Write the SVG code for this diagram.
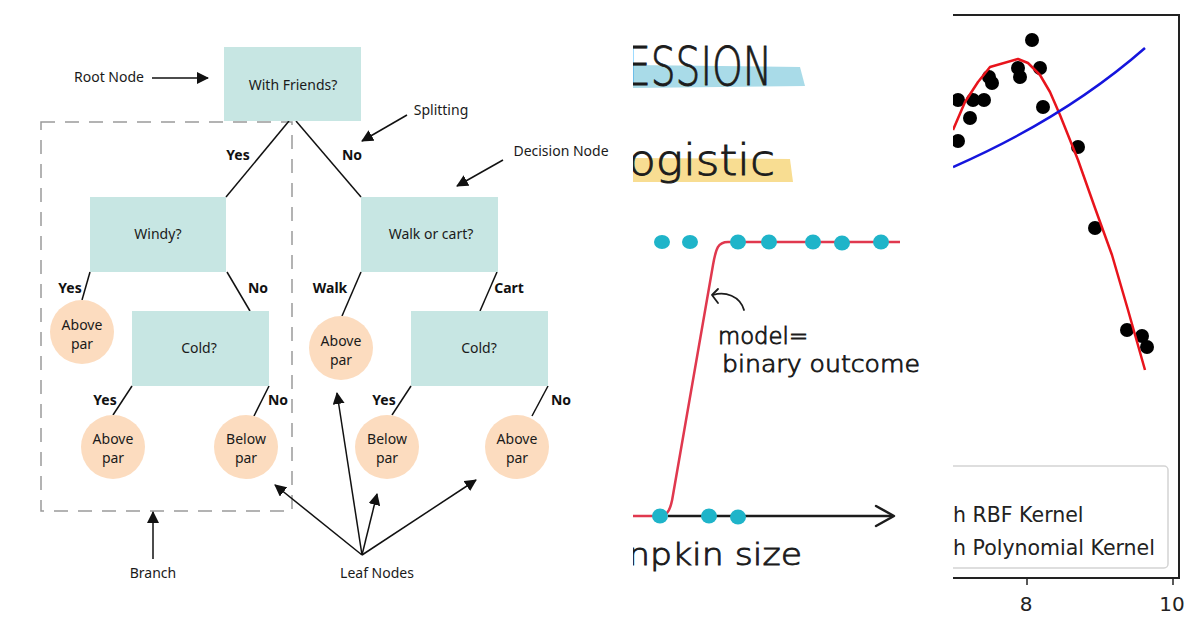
<svg xmlns="http://www.w3.org/2000/svg" width="1200" height="630" viewBox="0 0 1200 630">
<defs>
<style>
.box{fill:#c7e6e3}
.leaf{fill:#fcdcbf}
.t{font-family:"Noto Sans","Open Sans",sans-serif;font-size:14px;fill:#1a1a1a;text-anchor:middle}
.b{font-family:"Noto Sans","Open Sans",sans-serif;font-size:14px;font-weight:bold;fill:#111;text-anchor:middle}
.e{stroke:#111;stroke-width:1.5;fill:none}
.a{stroke:#111;stroke-width:1.5;fill:none;marker-end:url(#ah)}
.hw{font-family:"DejaVu Sans","Liberation Sans",sans-serif;font-weight:200;fill:#1c1c1c;stroke:#1c1c1c;stroke-width:0.9}
.dot{fill:#1fb4c9}
.pt{fill:#000}
.mpl{font-family:"DejaVu Sans",sans-serif;fill:#222}
</style>
<marker id="ah" viewBox="0 0 12 12" refX="11" refY="6" markerWidth="12" markerHeight="12" markerUnits="userSpaceOnUse" orient="auto">
<path d="M0,0 L12,6 L0,12 z" fill="#111"/>
</marker>
<clipPath id="midclip"><rect x="633" y="0" width="297" height="630"/></clipPath>
<clipPath id="rclip"><rect x="953" y="0" width="247" height="630"/></clipPath>
</defs>
<rect width="1200" height="630" fill="#fff"/>

<!-- Decision tree -->
<g id="branch-box">
<rect x="41" y="122" width="251" height="389" fill="none" stroke="#9a9a9a" stroke-width="1.5" stroke-dasharray="14 10"/>
</g>
<g id="connectors">
<line class="e" x1="289" y1="121" x2="226" y2="197"/>
<line class="e" x1="296" y1="121" x2="361" y2="197"/>
<line class="e" x1="90" y1="272" x2="82" y2="300"/>
<line class="e" x1="227" y1="272" x2="250" y2="311"/>
<line class="e" x1="132" y1="386" x2="113" y2="415"/>
<line class="e" x1="269" y1="386" x2="254" y2="416"/>
<line class="e" x1="361" y1="272" x2="342" y2="316"/>
<line class="e" x1="497" y1="272" x2="480" y2="311"/>
<line class="e" x1="411" y1="386" x2="392" y2="415"/>
<line class="e" x1="548" y1="386" x2="532" y2="416"/>
<line class="a" x1="152" y1="78" x2="208" y2="78"/>
<line class="a" x1="407" y1="115" x2="362" y2="141"/>
<line class="a" x1="503" y1="160" x2="457" y2="186"/>
<line class="a" x1="153" y1="559" x2="153" y2="512"/>
<line class="a" x1="362" y1="555" x2="337" y2="393"/>
<line class="a" x1="362" y1="555" x2="377" y2="494"/>
<line class="a" x1="362" y1="555" x2="476" y2="480"/>
<line class="a" x1="362" y1="555" x2="275" y2="485"/>
</g>
<g id="edge-labels">
<text class="b" x="238" y="160">Yes</text>
<text class="b" x="352" y="160">No</text>
<text class="b" x="70" y="293">Yes</text>
<text class="b" x="258" y="293">No</text>
<text class="b" x="330" y="293">Walk</text>
<text class="b" x="509" y="293">Cart</text>
<text class="b" x="105" y="405">Yes</text>
<text class="b" x="278" y="405">No</text>
<text class="b" x="384" y="405">Yes</text>
<text class="b" x="561" y="405">No</text>
</g>
<g id="root"><rect class="box" x="224" y="47" width="137" height="74"/><text class="t" x="293" y="90">With Friends?</text></g>
<g id="windy"><rect class="box" x="90" y="197" width="136" height="75"/><text class="t" x="158" y="239">Windy?</text></g>
<g id="walkcart"><rect class="box" x="361" y="197" width="137" height="75"/><text class="t" x="431" y="239">Walk or cart?</text></g>
<g id="cold1"><rect class="box" x="132" y="311" width="137" height="75"/><text class="t" x="199" y="353">Cold?</text></g>
<g id="cold2"><rect class="box" x="411" y="311" width="137" height="75"/><text class="t" x="479" y="353">Cold?</text></g>
<g id="leaf1"><circle class="leaf" cx="82" cy="332" r="32"/><text class="t" x="82" y="330">Above</text><text class="t" x="82" y="349">par</text></g>
<g id="leaf2"><circle class="leaf" cx="341" cy="348" r="32"/><text class="t" x="341" y="346">Above</text><text class="t" x="341" y="365">par</text></g>
<g id="leaf3"><circle class="leaf" cx="113" cy="447" r="32"/><text class="t" x="113" y="444">Above</text><text class="t" x="113" y="463">par</text></g>
<g id="leaf4"><circle class="leaf" cx="246" cy="447" r="32"/><text class="t" x="246" y="444">Below</text><text class="t" x="246" y="463">par</text></g>
<g id="leaf5"><circle class="leaf" cx="387" cy="447" r="32"/><text class="t" x="387" y="444">Below</text><text class="t" x="387" y="463">par</text></g>
<g id="leaf6"><circle class="leaf" cx="517" cy="447" r="32"/><text class="t" x="517" y="444">Above</text><text class="t" x="517" y="463">par</text></g>
<g id="annotations">
<text class="t" x="109" y="82">Root Node</text>
<text class="t" x="441" y="115">Splitting</text>
<text class="t" x="561" y="156">Decision Node</text>
<text class="t" x="153" y="578">Branch</text>
<text class="t" x="377" y="578">Leaf Nodes</text>
</g>

<!-- Middle panel: logistic regression sketch -->
<g id="logistic" clip-path="url(#midclip)">
<path d="M633,65 L800,67 L805,86 L633,88 z" fill="#a9dbe8"/>
<path d="M633,158 L790,159 L793,182 L633,182 z" fill="#f8dd92"/>
<text class="hw" x="626" y="85" font-size="54" textLength="146" lengthAdjust="spacingAndGlyphs">ESSION</text>
<text class="hw" x="628" y="175" font-size="42" textLength="147" lengthAdjust="spacingAndGlyphs">ogistic</text>
<path d="M632,516 L660,516 C668,516 671,508 673,495 L713,265 C716,248 718,242 728,242 L900,242" fill="none" stroke="#e0384e" stroke-width="2.5"/>
<line x1="668" y1="516" x2="893" y2="516" stroke="#1c1c1c" stroke-width="2.5"/>
<polyline points="876,506 894,516 876,526" fill="none" stroke="#1c1c1c" stroke-width="2.5" stroke-linejoin="round" stroke-linecap="round"/>
<ellipse class="dot" cx="662" cy="242" rx="8" ry="7"/>
<ellipse class="dot" cx="690" cy="242" rx="8" ry="7"/>
<ellipse class="dot" cx="738" cy="242" rx="8" ry="7.5"/>
<ellipse class="dot" cx="769" cy="242" rx="8" ry="7.5"/>
<ellipse class="dot" cx="813" cy="242" rx="8" ry="7.5"/>
<ellipse class="dot" cx="842" cy="243" rx="8" ry="7.5"/>
<ellipse class="dot" cx="881" cy="242" rx="8" ry="7.5"/>
<ellipse class="dot" cx="660" cy="516" rx="8" ry="7.5"/>
<ellipse class="dot" cx="709" cy="516" rx="8" ry="7.5"/>
<ellipse class="dot" cx="738" cy="517" rx="8" ry="7.5"/>
<path d="M713,295 C725,291 740,296 744,310" fill="none" stroke="#1c1c1c" stroke-width="1.8" stroke-linecap="round"/>
<polyline points="718,289 712,295 718,303" fill="none" stroke="#1c1c1c" stroke-width="1.8" stroke-linecap="round" stroke-linejoin="round"/>
<text class="hw" x="718" y="344" font-size="23" textLength="90" lengthAdjust="spacingAndGlyphs" stroke-width="0.5">model=</text>
<text class="hw" x="722" y="372" font-size="23" textLength="198" lengthAdjust="spacingAndGlyphs" stroke-width="0.5">binary outcome</text>
<text class="hw" x="628" y="565" font-size="31" textLength="174" lengthAdjust="spacingAndGlyphs">npkin size</text>
</g>

<!-- Right panel: SVR plot -->
<g id="svr-plot" clip-path="url(#rclip)">
<line x1="940" y1="15" x2="1180" y2="15" stroke="#222" stroke-width="2"/>
<line x1="1179" y1="14" x2="1179" y2="579" stroke="#222" stroke-width="2"/>
<line x1="940" y1="578" x2="1180" y2="578" stroke="#222" stroke-width="2"/>
<line x1="1027" y1="578" x2="1027" y2="585" stroke="#222" stroke-width="1.5"/>
<line x1="1173" y1="578" x2="1173" y2="585" stroke="#222" stroke-width="1.5"/>
<text class="mpl" x="1026" y="611" font-size="20" text-anchor="middle">8</text>
<text class="mpl" x="1172" y="611" font-size="20" text-anchor="middle">10</text>
<g>
<circle class="pt" cx="1032" cy="40" r="7"/>
<circle class="pt" cx="1018" cy="68" r="7"/>
<circle class="pt" cx="1020" cy="77" r="7"/>
<circle class="pt" cx="1040" cy="68" r="7"/>
<circle class="pt" cx="989" cy="77" r="7"/>
<circle class="pt" cx="992" cy="83" r="7"/>
<circle class="pt" cx="958" cy="100" r="7"/>
<circle class="pt" cx="973" cy="100" r="7"/>
<circle class="pt" cx="984" cy="100" r="7"/>
<circle class="pt" cx="970" cy="118" r="7"/>
<circle class="pt" cx="1043" cy="107" r="7"/>
<circle class="pt" cx="958" cy="141" r="7"/>
<circle class="pt" cx="1078" cy="147" r="7"/>
<circle class="pt" cx="1095" cy="228" r="7"/>
<circle class="pt" cx="1127" cy="330" r="7"/>
<circle class="pt" cx="1142" cy="336" r="7"/>
<circle class="pt" cx="1147" cy="347" r="7"/>
</g>
<polyline points="953,130 965,102 978,82 990,67 1018,59 1028,63 1040,75 1050,92 1060,115 1078,160 1095,208 1112,255 1128,310 1145,370" fill="none" stroke="#e8141c" stroke-width="2.5" stroke-linejoin="round"/>
<path d="M953,167 Q1065,118 1145,48" fill="none" stroke="#1515dd" stroke-width="2.5"/>
<rect x="935" y="466" width="233" height="102" rx="4" fill="#fff" fill-opacity="0.85" stroke="#d4d4d4" stroke-width="1.5"/>
<text class="mpl" x="953" y="522" font-size="20.5">h RBF Kernel</text>
<text class="mpl" x="953" y="555" font-size="20.5">h Polynomial Kernel</text>
</g>
</svg>
